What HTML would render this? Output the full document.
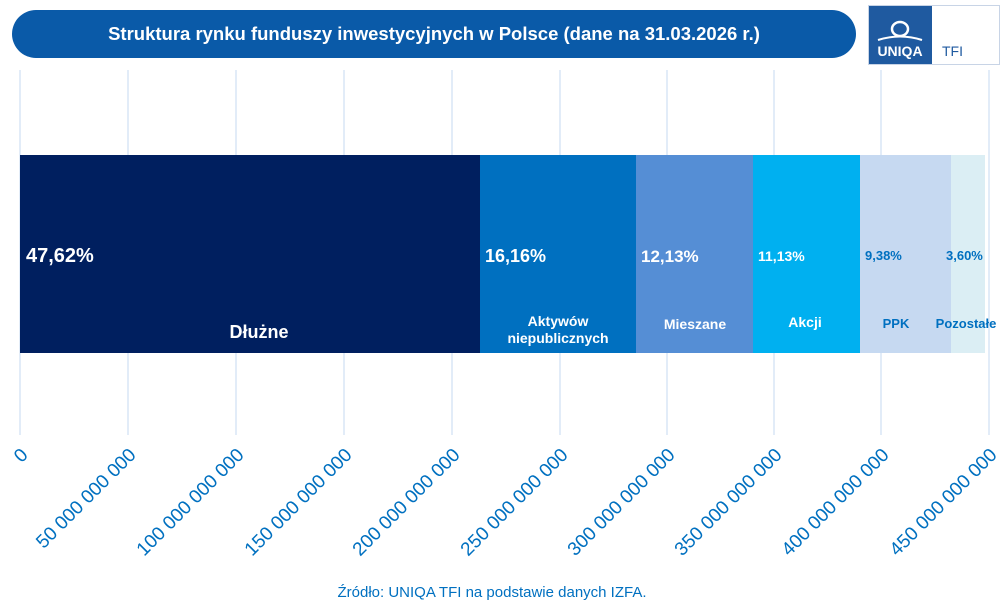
<!DOCTYPE html>
<html><head><meta charset="utf-8"><style>
body{margin:0;background:#fff;width:1003px;height:607px;overflow:hidden;font-family:"Liberation Sans",sans-serif}
</style></head><body>
<svg width="1003" height="607" xmlns="http://www.w3.org/2000/svg" font-family="Liberation Sans, sans-serif">
<rect x="12" y="10" width="844" height="48" rx="24" fill="#0a5aa8"/>
<text x="434" y="40" text-anchor="middle" fill="#fff" font-size="18.5" font-weight="bold">Struktura rynku funduszy inwestycyjnych w Polsce (dane na 31.03.2026 r.)</text>
<rect x="868.5" y="5.5" width="131" height="59" fill="#fff" stroke="#c8d4e6"/>
<rect x="869" y="6" width="63" height="58" fill="#1f5aa0"/>
<ellipse cx="900" cy="29" rx="8" ry="7" fill="none" stroke="#fff" stroke-width="2.5"/>
<path d="M878 40 Q900 33 922 40" stroke="#fff" stroke-width="2" fill="none"/>
<text x="900" y="56" text-anchor="middle" fill="#fff" font-size="14" font-weight="bold">UNIQA</text>
<text x="942" y="56" fill="#1f5aa0" font-size="14">TFI</text>
<g stroke="#c6d9f1" stroke-width="1">
<line x1="20" y1="70" x2="20" y2="435"/><line x1="128" y1="70" x2="128" y2="435"/><line x1="236" y1="70" x2="236" y2="435"/><line x1="344" y1="70" x2="344" y2="435"/><line x1="452" y1="70" x2="452" y2="435"/><line x1="560" y1="70" x2="560" y2="435"/><line x1="667" y1="70" x2="667" y2="435"/><line x1="774" y1="70" x2="774" y2="435"/><line x1="881" y1="70" x2="881" y2="435"/><line x1="989" y1="70" x2="989" y2="435"/>
</g>
<rect x="20" y="155" width="460" height="198" fill="#001f5f"/>
<rect x="480" y="155" width="156" height="198" fill="#0070c0"/>
<rect x="636" y="155" width="117" height="198" fill="#558ed5"/>
<rect x="753" y="155" width="107" height="198" fill="#00b0f0"/>
<rect x="860" y="155" width="91" height="198" fill="#c6d9f1"/>
<rect x="951" y="155" width="34" height="198" fill="#dbeef4"/>
<g font-weight="bold" fill="#fff">
<text x="26" y="262" font-size="20">47,62%</text>
<text x="485" y="262" font-size="18">16,16%</text>
<text x="641" y="262" font-size="17">12,13%</text>
<text x="758" y="261" font-size="14">11,13%</text>
<text x="865" y="260" font-size="13" fill="#0070c0">9,38%</text>
<text x="946" y="260" font-size="13" fill="#0070c0">3,60%</text>
<text x="259" y="338" font-size="18" text-anchor="middle">Dłużne</text>
<text x="558" y="326" font-size="14" text-anchor="middle">Aktywów</text>
<text x="558" y="343" font-size="14" text-anchor="middle">niepublicznych</text>
<text x="695" y="329" font-size="14" text-anchor="middle">Mieszane</text>
<text x="805" y="327" font-size="14" text-anchor="middle">Akcji</text>
<text x="896" y="328" font-size="13" text-anchor="middle" fill="#0070c0">PPK</text>
<text x="966" y="328" font-size="13" text-anchor="middle" fill="#0070c0">Pozostałe</text>
</g>
<g fill="#0070c0" font-size="19" text-anchor="end">
<text transform="translate(29,456) rotate(-45)">0</text>
<text transform="translate(137,456) rotate(-45)">50 000 000 000</text>
<text transform="translate(245,456) rotate(-45)">100 000 000 000</text>
<text transform="translate(353,456) rotate(-45)">150 000 000 000</text>
<text transform="translate(461,456) rotate(-45)">200 000 000 000</text>
<text transform="translate(569,456) rotate(-45)">250 000 000 000</text>
<text transform="translate(676,456) rotate(-45)">300 000 000 000</text>
<text transform="translate(783,456) rotate(-45)">350 000 000 000</text>
<text transform="translate(890,456) rotate(-45)">400 000 000 000</text>
<text transform="translate(998,456) rotate(-45)">450 000 000 000</text>
</g>
<text x="492" y="597" text-anchor="middle" fill="#0070c0" font-size="15">Źródło: UNIQA TFI na podstawie danych IZFA.</text>
</svg>
</body></html>
